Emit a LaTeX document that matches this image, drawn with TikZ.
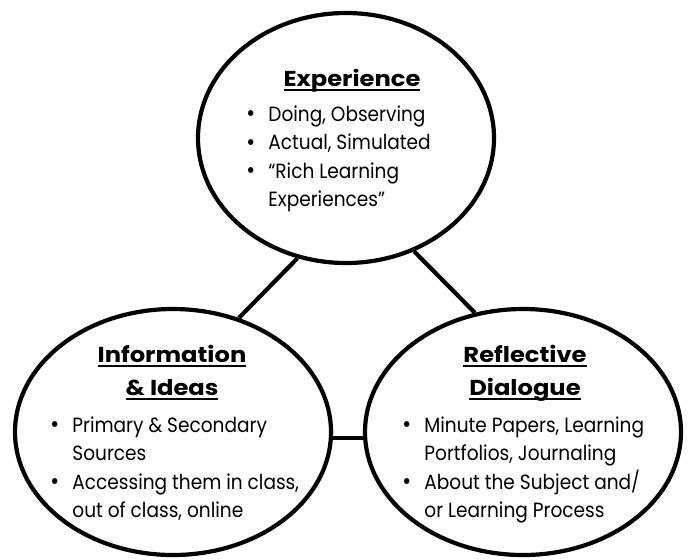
\documentclass[tikz,border=0pt]{standalone}
\usepackage{fontspec}
\setmainfont{Poppins}[FakeStretch=0.9,BoldFeatures={FakeStretch=1.12}]
\usetikzlibrary{shapes.geometric}
% heading with an underline that runs through the descenders
\newcommand\headline[1]{\setbox0\hbox{#1}\rlap{\rule[-2.4pt]{\wd0}{0.95pt}}\box0}
\newcommand\bul{\makebox[11pt][l]{\raisebox{-0.2pt}{\large\textbullet}}}
\newcommand\ind{\hspace*{11pt}}
\begin{document}
\begin{tikzpicture}[x=0.5pt,y=-0.5pt,
  bubble/.style={ellipse,draw=black,line width=2.1pt,inner sep=0pt,fill=white},
  link/.style={line width=2.1pt},
  heading/.style={font=\fontsize{10.8}{16.5}\selectfont\bfseries,inner sep=0pt,anchor=base},
  body/.style={font=\fontsize{10.3}{14.3}\selectfont,inner sep=0pt,anchor=base west}]
\useasboundingbox (0,0) rectangle (688,559);

\node[bubble,minimum width=148pt,minimum height=125pt] (exp) at (346,138) {};
\node[bubble,minimum width=158pt,minimum height=123pt] (info) at (173,432) {};
\node[bubble,minimum width=158pt,minimum height=123pt] (refl) at (523,432) {};

\draw[link] (exp.248) -- (info.60);
\draw[link] (exp.301.6) -- (refl.112);
\draw[link] (info.-2) -- (refl.182);

\node[heading] (exph) at (352,86) {\headline{Experience}};
\node[body] (expb) at (246,121) {\begin{tabular}[t]{@{}l@{}}\bul Doing, Observing\\\bul Actual, Simulated\\\bul ``Rich Learning\\\ind Experiences''\end{tabular}};

\node[heading] (infoh) at (172,362) {\begin{tabular}[t]{@{}c@{}}\headline{Information}\\\headline{\& Ideas}\end{tabular}};
\node[body] (infob) at (50,432) {\begin{tabular}[t]{@{}l@{}}\bul Primary \& Secondary\\\ind Sources\\\bul Accessing them in class,\\\ind out of class, online\end{tabular}};

\node[heading] (reflh) at (525,362) {\begin{tabular}[t]{@{}c@{}}\headline{Reflective}\\\headline{Dialogue}\end{tabular}};
\node[body] (reflb) at (402,432) {\begin{tabular}[t]{@{}l@{}}\bul Minute Papers, Learning\\\ind Portfolios, Journaling\\\bul About the Subject and/\\\ind or Learning Process\end{tabular}};
\end{tikzpicture}
\end{document}
